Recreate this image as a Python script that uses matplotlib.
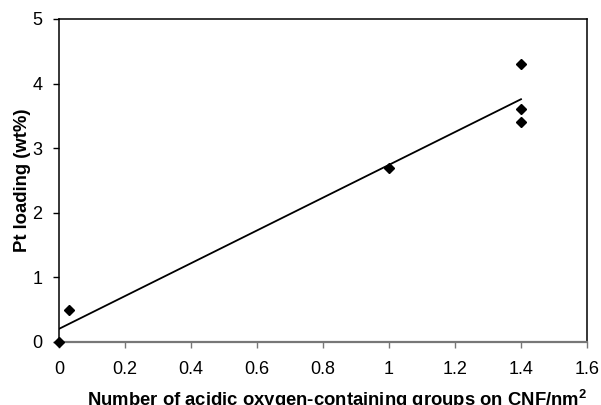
import numpy as np
import matplotlib.pyplot as plt

plt.rcParams['font.family'] = ['Liberation Sans', 'DejaVu Sans']
plt.rcParams['mathtext.fontset'] = 'custom'
plt.rcParams['mathtext.rm'] = 'Liberation Sans'
plt.rcParams['mathtext.bf'] = 'Liberation Sans:bold'

# acidic groups per nm^2 vs Pt loading
groups = [0, 0.03, 1.0, 1.4, 1.4, 1.4]
pt_loading = [0, 0.5, 2.7, 4.3, 3.6, 3.4]

x_ticks = [0, 0.2, 0.4, 0.6, 0.8, 1, 1.2, 1.4, 1.6]
x_tick_labels = ["0", "0.2", "0.4", "0.6", "0.8", "1", "1.2", "1.4", "1.6"]
y_ticks = [0, 1, 2, 3, 4, 5]

# linear trend line
slope, intercept = np.polyfit(groups, pt_loading, 1)
fit_x = np.array([min(groups), max(groups)])
fit_y = slope * fit_x + intercept

fig = plt.figure(figsize=(6.01, 4.05), dpi=100)
ax = fig.add_axes([59 / 601, 1 - 342 / 405, (587 - 59) / 601, (342 - 19) / 405])

ax.plot(fit_x, fit_y, color="black", lw=1.3, zorder=2)
ax.plot(groups, pt_loading, "D", color="black", ms=5.5, clip_on=False, zorder=3)

ax.set_xlim(0, 1.6)
ax.set_ylim(0, 5)
ax.set_xticks(x_ticks)
ax.set_xticklabels(x_tick_labels)
ax.set_yticks(y_ticks)
ax.tick_params(direction="out", length=4, width=1, labelsize=13)
ax.tick_params(axis="x", colors="#777777", labelcolor="black", pad=10)
ax.tick_params(axis="y", pad=8)

for side in ["left", "right", "top"]:
    ax.spines[side].set_color("black")
    ax.spines[side].set_linewidth(1.1)
ax.spines["bottom"].set_color("#777777")
ax.spines["bottom"].set_linewidth(1.6)

ax.set_xlabel("Number of acidic oxygen-containing groups on CNF/nm$^\\mathbf{2}$",
              fontsize=13.3, fontweight="bold")
ax.xaxis.set_label_coords((337 - 59) / (587 - 59), (342 - 388) / (342 - 19))
ax.set_ylabel("Pt loading (wt%)", fontsize=13.3, fontweight="bold")
ax.yaxis.set_label_coords((31 - 59) / (587 - 59), (342 - 180) / (342 - 19))

fig.savefig("out.png", dpi=100)
